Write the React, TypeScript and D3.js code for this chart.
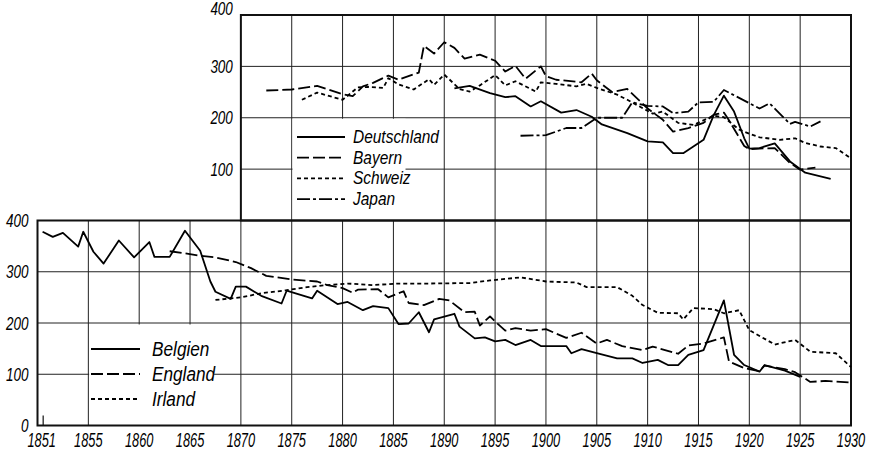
import React from 'react';
import * as d3 from 'd3';

type P = [number, number];

// ---- data (year, value) ----
const belgien: P[] = [[1850.5,378],[1851.5,368],[1852.5,376],[1854,349],[1854.5,378],[1855.5,339],[1856.5,316],[1858,361],[1859.5,328],[1861,358],[1861.5,329],[1863,329],[1864.5,380],[1866,341],[1867,281],[1867.5,261],[1869,247],[1869.5,271],[1870.5,271],[1872,253],[1874,238],[1874.5,263],[1877,248],[1877.5,263],[1879.5,237],[1880.5,241],[1882,225],[1883,233],[1884.5,229],[1885.5,198],[1886.5,199],[1887.5,221],[1888.5,182],[1889,207],[1891,218],[1891.5,193],[1893,170],[1894,172],[1895,164],[1896,167],[1897,157],[1898.5,167],[1899.5,155],[1902,155],[1902.5,141],[1903.5,149],[1905,141],[1907,131],[1908.5,131],[1909.5,122],[1911,128],[1912,118],[1913,118],[1914,138],[1915.5,147],[1917.5,244],[1918.5,138],[1919.5,118],[1921,105],[1921.5,118],[1923.5,107],[1925,95]];
const england: P[] = [[1863,340],[1864.5,336],[1866,331],[1867.5,328],[1869.5,319],[1871,307],[1872.5,292],[1875,285],[1877.5,281],[1878.5,274],[1880,268],[1881,259],[1881.5,265],[1883.5,266],[1884.5,250],[1886,262],[1886.5,239],[1888,235],[1889.5,247],[1890.5,244],[1892,221],[1893,222],[1893.5,195],[1894.5,213],[1895,203],[1896,185],[1897,190],[1898.5,185],[1900,188],[1902,171],[1903.5,181],[1905,160],[1906,167],[1907.5,155],[1909.5,147],[1910.5,154],[1913,140],[1914,156],[1915.5,160],[1917.5,172],[1918,125],[1919.5,112],[1921,106],[1921.5,117],[1923.5,110],[1924.5,104],[1926,85],[1927.5,87],[1930,84]];
const irland: P[] = [[1867.5,245],[1870,250],[1872,258],[1874.5,264],[1876.5,270],[1878.5,274],[1880.5,277],[1883,274],[1885.5,277],[1888.5,277],[1892.5,278],[1894.5,283],[1897.5,289],[1900,281],[1903,279],[1904,270],[1907,270],[1908.5,253],[1909.5,235],[1911,220],[1913,219],[1913.5,207],[1914.5,229],[1916.5,227],[1917.5,219],[1919,225],[1920,186],[1922.5,158],[1924.5,167],[1926,144],[1928.5,141],[1930,114]];

const deutschland: P[] = [[1891,257],[1892.5,262],[1894.5,248],[1896,240],[1897,242],[1898.5,222],[1899.5,232],[1901.5,210],[1903,215],[1904.5,202],[1905.5,187],[1908,170],[1910,154],[1911.5,152],[1912.5,131],[1913.5,131],[1915.5,157],[1916.5,205],[1917.5,243],[1918.5,212],[1919.5,160],[1920,140],[1921,141],[1922.5,150],[1924,115],[1925.5,93],[1928,81]];
const bayern: P[] = [[1872.5,253],[1875,255],[1877.5,262],[1880,246],[1881,242],[1882,261],[1883,268],[1884.5,282],[1885.5,274],[1887.5,288],[1888,340],[1889,325],[1890,347],[1891,336],[1892,315],[1893.5,323],[1895,311],[1896,290],[1897,301],[1898,276],[1899.5,300],[1900,281],[1901,274],[1903.5,269],[1904.5,286],[1905,273],[1906.5,250],[1908,256],[1910,218],[1911.5,196],[1912.5,173],[1914,180],[1915.5,190],[1916.5,206],[1917.5,210],[1918,195],[1919.5,145],[1920,139],[1921,140],[1922.5,141],[1924,112],[1925,99],[1926.5,103]];
const schweiz: P[] = [[1876,235],[1877.5,249],[1880,235],[1881.5,259],[1882.5,260],[1884,258],[1884.5,277],[1885.5,265],[1887,255],[1888.5,275],[1889,264],[1890,284],[1891.5,256],[1892.5,251],[1893.5,263],[1895,283],[1896,263],[1897,271],[1899,251],[1899.5,269],[1901,266],[1903,261],[1904,266],[1905,258],[1907,245],[1908,235],[1910.5,208],[1911.5,212],[1913,190],[1914.5,186],[1916.5,204],[1917.5,201],[1919,177],[1920,169],[1921,162],[1923,157],[1924.5,160],[1925.5,151],[1927,144],[1928.5,141],[1930,121]];
const japan: P[] = [[1897.5,165],[1900,166],[1902,180],[1903.5,180],[1905,200],[1907.5,200],[1908.5,230],[1910,223],[1911.5,222],[1912.5,209],[1914,212],[1915,230],[1916.5,231],[1917.5,254],[1921,218],[1922,228],[1924,188],[1924.5,192],[1926,183],[1927,193]];

const xTickLabels = [1851, 1855, 1860, 1865, 1870, 1875, 1880, 1885, 1890, 1895, 1900, 1905, 1910, 1915, 1920, 1925, 1930];
const bottomGridYears = [1855, 1860, 1865, 1870, 1875, 1880, 1885, 1890, 1895, 1900, 1905, 1910, 1915, 1920, 1925];
const topGridYears = [1875, 1880, 1885, 1890, 1895, 1900, 1905, 1910, 1915, 1920, 1925];
const bottomYTicks = [0, 100, 200, 300, 400];
const topYTicks = [100, 200, 300, 400];
const gridValues = [100, 200, 300];

const topNames = ['Deutschland', 'Bayern', 'Schweiz', 'Japan'];
const bottomNames = ['Belgien', 'England', 'Irland'];

const SOLID = undefined;
const LONGDASH = '12,4';
const DOTTED = '4,3';
const DASHDOT = '13,3,3,3';

const FONT = "'Liberation Sans', Arial, sans-serif";

export default function App() {
  const x = d3.scaleLinear().domain([1850, 1930]).range([37.5, 851]);
  const yB = d3.scaleLinear().domain([0, 400]).range([425.5, 220.5]);
  const yT = d3.scaleLinear().domain([0, 400]).range([220.5, 15]);
  const lineB = d3.line<P>().x(d => x(d[0])).y(d => yB(d[1]));
  const lineT = d3.line<P>().x(d => x(d[0])).y(d => yT(d[1]));

  const topSeries = [
    { name: topNames[0], data: deutschland, dash: SOLID },
    { name: topNames[1], data: bayern, dash: LONGDASH },
    { name: topNames[2], data: schweiz, dash: DOTTED },
    { name: topNames[3], data: japan, dash: DASHDOT },
  ];
  const bottomSeries = [
    { name: bottomNames[0], data: belgien, dash: SOLID },
    { name: bottomNames[1], data: england, dash: LONGDASH },
    { name: bottomNames[2], data: irland, dash: DOTTED },
  ];

  const xL = x(1850), xR = x(1930), xTL = x(1870);
  const gridColor = '#222';

  return (
    <svg width={869} height={451} style={{ position: 'absolute', left: 0, top: 0, background: '#fff' }}
      fontFamily={FONT} fontStyle="italic">
      <rect x={0} y={0} width={869} height={451} fill="#fff" />
      {/* bottom panel grid */}
      {bottomGridYears.map(yr => (
        <line key={'bv' + yr} x1={x(yr)} x2={x(yr)} y1={yB(400)} y2={yB(0)} stroke={gridColor} strokeWidth={1} />
      ))}
      {gridValues.map(v => (
        <line key={'bh' + v} x1={xL} x2={xR} y1={yB(v)} y2={yB(v)} stroke={gridColor} strokeWidth={1} />
      ))}
      {/* top panel grid */}
      {topGridYears.map(yr => (
        <line key={'tv' + yr} x1={x(yr)} x2={x(yr)} y1={yT(400)} y2={yT(0)} stroke={gridColor} strokeWidth={1} />
      ))}
      {gridValues.map(v => (
        <line key={'th' + v} x1={xTL} x2={xR} y1={yT(v)} y2={yT(v)} stroke={gridColor} strokeWidth={1} />
      ))}

      {/* legend backgrounds */}
      <rect x={x(1875) + 0.8} y={yT(200) + 1} width={113} height={yT(0) - yT(200) - 1.5} fill="#fff" />
      <rect x={x(1855) + 0.8} y={yB(200) + 1.5} width={125} height={yB(0) - yB(200) - 2} fill="#fff" />

      {/* frames */}
      <rect x={xTL} y={yT(400)} width={xR - xTL} height={yT(0) - yT(400)} fill="none" stroke="#111" strokeWidth={2} />
      <rect x={xL} y={yB(400)} width={xR - xL} height={yB(0) - yB(400)} fill="none" stroke="#111" strokeWidth={2} />
      <line x1={x(1851) - 4.5} x2={x(1851) - 4.5} y1={yB(0)} y2={yB(0) - 10} stroke="#111" strokeWidth={1.2} />

      {/* data */}
      {bottomSeries.map(s => (
        <path key={s.name} d={lineB(s.data) || ''} fill="none" stroke="#000" strokeWidth={1.8}
          strokeDasharray={s.dash} strokeLinejoin="round" />
      ))}
      {topSeries.map(s => (
        <path key={s.name} d={lineT(s.data) || ''} fill="none" stroke="#000" strokeWidth={1.8}
          strokeDasharray={s.dash} strokeLinejoin="round" />
      ))}

      {/* y tick labels */}
      {bottomYTicks.map(v => (
        <text key={'byl' + v} transform={`translate(${xL - 9},${yB(v) + 6.5}) scale(0.75,1)`}
          textAnchor="end" fontSize={18} fill="#000">{v}</text>
      ))}
      {topYTicks.map(v => (
        <text key={'tyl' + v} transform={`translate(${xTL - 8},${v === 400 ? yT(v) : yT(v) + 6.5}) scale(0.75,1)`}
          textAnchor="end" fontSize={18} fill="#000">{v}</text>
      ))}
      {/* x tick labels */}
      {xTickLabels.map(yr => (
        <text key={'xl' + yr} transform={`translate(${yr === 1851 ? x(yr) - 6 : x(yr)},447) scale(0.64,1)`}
          textAnchor="middle" fontSize={20} fill="#000">{yr}</text>
      ))}

      {/* top legend */}
      {topSeries.map((s, i) => {
        const yy = 137 + i * 20.7;
        return (
          <g key={'tleg' + s.name}>
            <line x1={297} x2={345} y1={yy} y2={yy} stroke="#000" strokeWidth={1.8} strokeDasharray={s.dash} />
            <text transform={`translate(353,${yy + 6})} scale(0.86,1)`.replace(')}', ')')} fontSize={18} fill="#000">{s.name}</text>
          </g>
        );
      })}
      {/* bottom legend */}
      {bottomSeries.map((s, i) => {
        const yy = 349 + i * 25;
        return (
          <g key={'bleg' + s.name}>
            <line x1={91} x2={140} y1={yy} y2={yy} stroke="#000" strokeWidth={1.8} strokeDasharray={s.dash} />
            <text transform={`translate(152,${yy + 6.5}) scale(0.84,1)`} fontSize={20.5} fill="#000">{s.name}</text>
          </g>
        );
      })}
    </svg>
  );
}
